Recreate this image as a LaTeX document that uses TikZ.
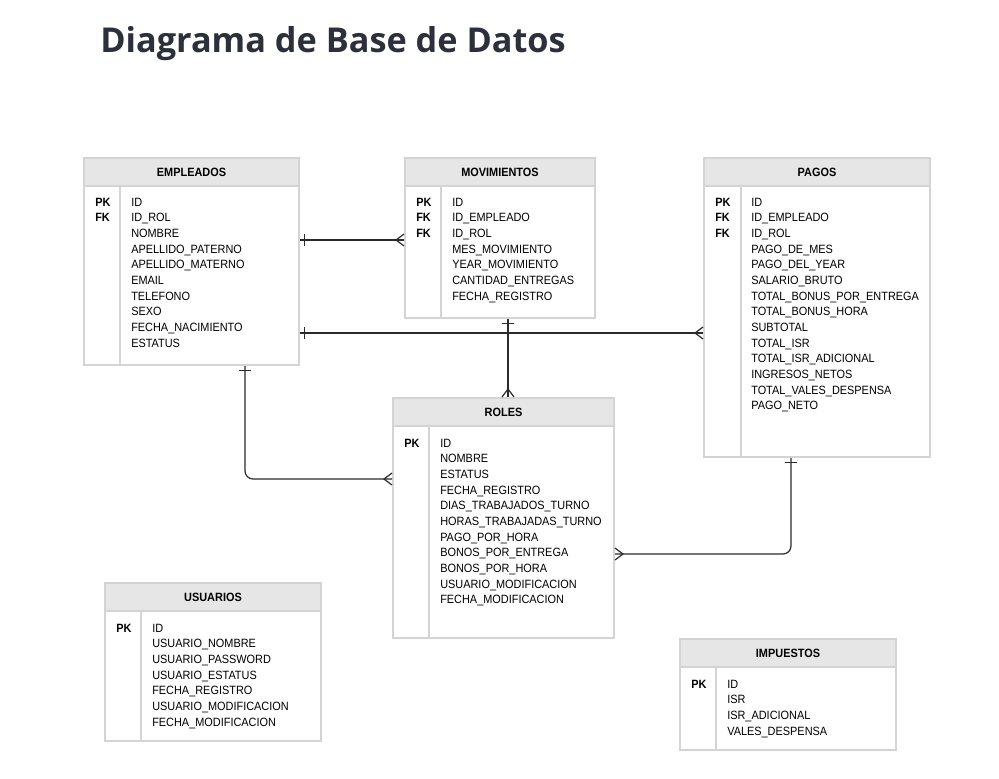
\documentclass[tikz,border=0pt]{standalone}
\usepackage{fontspec}
\setmainfont{Liberation Sans}[FakeStretch=0.91]
\newfontfamily\titlefont{Open Sans}
\usetikzlibrary{positioning, calc, fit, decorations.markings}

\definecolor{tblborder}{HTML}{D4D4D4}
\definecolor{tblhead}{HTML}{E6E6E6}
\definecolor{titlecol}{HTML}{2B303B}
\definecolor{linecol}{HTML}{2A2A2A}

\tikzset{
  tbl/.style={draw=tblborder, line width=1.5pt, fill=white, inner sep=0pt},
  hdr/.style={draw=tblborder, line width=1.5pt, fill=tblhead, inner sep=0pt},
  hdrtext/.style={inner sep=0pt, font=\fontsize{9}{11}\selectfont\bfseries},
  keys/.style={anchor=north west, inner sep=0pt, align=left,
    font=\fontsize{9}{11.75}\selectfont\bfseries},
  fields/.style={anchor=north west, inner sep=0pt, align=left,
    font=\fontsize{9}{11.75}\selectfont},
  divider/.style={draw=tblborder, line width=1.5pt},
  conn/.style={draw=linecol, line width=0.9pt, rounded corners=6pt},
  one/.style={postaction={decorate, decoration={markings,
    mark=at position 3.5pt with {\draw[linecol, line width=0.9pt, sharp corners] (0,-4.5pt) -- (0,4.5pt);}}}},
  many/.style={postaction={decorate, decoration={markings,
    mark=at position 1 with {\draw[linecol, line width=0.9pt, sharp corners] (0,4.5pt) -- (-6pt,0) -- (0,-4.5pt);}}}},
}

\begin{document}
\begin{tikzpicture}[x=0.75pt, y=-0.75pt]
  \fill[white] (0,0) rectangle (999,778);
  \useasboundingbox (0,0) rectangle (999,778);

  \node[anchor=base west, inner sep=0pt, text=titlecol,
    font=\titlefont\bfseries\fontsize{25.7}{30}\selectfont] (title) at (100,52) {Diagrama de Base de Datos};

  % EMPLEADOS
  \node[tbl, fit={(84,158) (299,365)}] (emp) {};
  \node[hdr, fit={(84,158) (299,186)}] (emp-h) {};
  \node[hdrtext] (emp-t) at (emp-h.center) {EMPLEADOS};
  \draw[divider] (120,186) -- (120,365);
  \node[keys] (emp-k) at (95,197.5) {PK\\FK};
  \node[fields] (emp-f) at (131,197.5) {ID\\ID\_ROL\\NOMBRE\\APELLIDO\_PATERNO\\APELLIDO\_MATERNO\\EMAIL\\TELEFONO\\SEXO\\FECHA\_NACIMIENTO\\ESTATUS};

  % MOVIMIENTOS
  \node[tbl, fit={(405,158) (595,318)}] (mov) {};
  \node[hdr, fit={(405,158) (595,186)}] (mov-h) {};
  \node[hdrtext] (mov-t) at (mov-h.center) {MOVIMIENTOS};
  \draw[divider] (441,186) -- (441,318);
  \node[keys] (mov-k) at (416,197.5) {PK\\FK\\FK};
  \node[fields] (mov-f) at (452,197.5) {ID\\ID\_EMPLEADO\\ID\_ROL\\MES\_MOVIMIENTO\\YEAR\_MOVIMIENTO\\CANTIDAD\_ENTREGAS\\FECHA\_REGISTRO};

  % PAGOS
  \node[tbl, fit={(704,158) (930,457)}] (pag) {};
  \node[hdr, fit={(704,158) (930,186)}] (pag-h) {};
  \node[hdrtext] (pag-t) at (pag-h.center) {PAGOS};
  \draw[divider] (741,186) -- (741,457);
  \node[keys] (pag-k) at (715,197.5) {PK\\FK\\FK};
  \node[fields] (pag-f) at (751,197.5) {ID\\ID\_EMPLEADO\\ID\_ROL\\PAGO\_DE\_MES\\PAGO\_DEL\_YEAR\\SALARIO\_BRUTO\\TOTAL\_BONUS\_POR\_ENTREGA\\TOTAL\_BONUS\_HORA\\SUBTOTAL\\TOTAL\_ISR\\TOTAL\_ISR\_ADICIONAL\\INGRESOS\_NETOS\\TOTAL\_VALES\_DESPENSA\\PAGO\_NETO};

  % ROLES
  \node[tbl, fit={(393,398) (614,638)}] (rol) {};
  \node[hdr, fit={(393,398) (614,426)}] (rol-h) {};
  \node[hdrtext] (rol-t) at (rol-h.center) {ROLES};
  \draw[divider] (429,426) -- (429,638);
  \node[keys] (rol-k) at (404,438.5) {PK};
  \node[fields] (rol-f) at (440,438.5) {ID\\NOMBRE\\ESTATUS\\FECHA\_REGISTRO\\DIAS\_TRABAJADOS\_TURNO\\HORAS\_TRABAJADAS\_TURNO\\PAGO\_POR\_HORA\\BONOS\_POR\_ENTREGA\\BONOS\_POR\_HORA\\USUARIO\_MODIFICACION\\FECHA\_MODIFICACION};

  % USUARIOS
  \node[tbl, fit={(105,583) (321,741)}] (usr) {};
  \node[hdr, fit={(105,583) (321,611)}] (usr-h) {};
  \node[hdrtext] (usr-t) at (usr-h.center) {USUARIOS};
  \draw[divider] (141,611) -- (141,741);
  \node[keys] (usr-k) at (116,623.5) {PK};
  \node[fields] (usr-f) at (152,623.5) {ID\\USUARIO\_NOMBRE\\USUARIO\_PASSWORD\\USUARIO\_ESTATUS\\FECHA\_REGISTRO\\USUARIO\_MODIFICACION\\FECHA\_MODIFICACION};

  % IMPUESTOS
  \node[tbl, fit={(680,639) (896,750)}] (imp) {};
  \node[hdr, fit={(680,639) (896,667)}] (imp-h) {};
  \node[hdrtext] (imp-t) at (imp-h.center) {IMPUESTOS};
  \draw[divider] (716,667) -- (716,750);
  \node[keys] (imp-k) at (691,679.5) {PK};
  \node[fields] (imp-f) at (727,679.5) {ID\\ISR\\ISR\_ADICIONAL\\VALES\_DESPENSA};

  % relaciones
  \draw[conn, one, many] (emp.east |- 0,240) -- (mov.west |- 0,240);
  \draw[conn, one, many] (emp.east |- 0,333) -- (pag.west |- 0,333);
  \draw[conn, one, many] (mov.south -| 508,0) -- (rol.north -| 508,0);
  \draw[conn, one, many] (emp.south -| 245,0) |- (rol.west |- 0,479);
  \draw[conn, one, many] (pag.south -| 791,0) |- (rol.east |- 0,554);
\end{tikzpicture}
\end{document}
